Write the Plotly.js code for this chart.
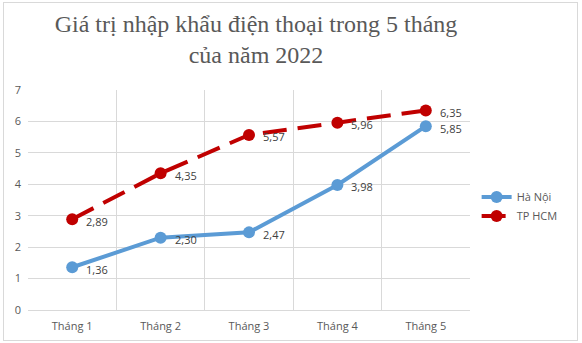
<!DOCTYPE html>
<html><head><meta charset="utf-8">
<script src="https://cdn.plot.ly/plotly-3.0.1.min.js"></script>
<style>body{margin:0;padding:0;background:#fff}#c{width:582px;height:343px;position:absolute;left:0;top:0}#b{position:absolute;left:3px;top:2px;width:573px;height:337px;border:1px solid #d9d9d9;pointer-events:none}</style>
</head><body>
<div id="c"></div><div id="b"></div>
<script>
var categories = ["Tháng 1","Tháng 2","Tháng 3","Tháng 4","Tháng 5"];
var haNoi = [1.36, 2.30, 2.47, 3.98, 5.85];
var tpHCM = [2.89, 4.35, 5.57, 5.96, 6.35];
var seriesNames = ["Hà Nội","TP HCM"];
function lbl(v){return v.toFixed(2).replace('.',',');}
var traces = [
 {x:categories,y:haNoi,name:seriesNames[0],type:'scatter',mode:'lines+markers',
  line:{color:'#5B9BD5',width:4},marker:{color:'#5B9BD5',size:12}},
 {x:categories,y:tpHCM,name:seriesNames[1],type:'scatter',mode:'lines+markers',
  line:{color:'#C00000',width:4,dash:'24px,11px'},marker:{color:'#C00000',size:12}}
];
var annotations = [];
[haNoi,tpHCM].forEach(function(s){
  s.forEach(function(v,i){
    annotations.push({x:categories[i],y:v,xref:'x',yref:'y',text:lbl(v),showarrow:false,
      xanchor:'left',yanchor:'middle',xshift:12,yshift:-2,
      font:{family:'Open Sans, Arial',size:11,color:'#404040'}});
  });
});
var layout = {
 width:582,height:343,margin:{l:28,r:112,t:90,b:33},
 paper_bgcolor:'#fff',plot_bgcolor:'#fff',
 title:{text:'Giá trị nhập khẩu điện thoại trong 5 tháng<br>của năm 2022',font:{family:'Liberation Serif, Times New Roman, serif',size:24,color:'#595959'},x:256/582,xanchor:'center',y:0.906,yanchor:'top'},
 xaxis:{type:'category',range:[-0.5,4.5],tickson:'boundaries',showgrid:true,gridcolor:'#d9d9d9',gridwidth:1,
  showline:true,linecolor:'#d9d9d9',ticks:'',ticklabelstandoff:6,tickfont:{family:'Open Sans, Arial',size:11,color:'#595959'},zeroline:false},
 yaxis:{range:[0,7],dtick:1,showgrid:true,gridcolor:'#d9d9d9',gridwidth:1,zeroline:false,showline:false,
  tickfont:{family:'Open Sans, Arial',size:11,color:'#595959'},ticklabelstandoff:6},
 annotations:annotations,
 showlegend:true,
 legend:{x:1.015,y:0.47,xanchor:'left',yanchor:'middle',font:{family:'Open Sans, Arial',size:11,color:'#595959'},itemwidth:30,tracegroupgap:0,bgcolor:'rgba(0,0,0,0)'}
};
Plotly.newPlot('c',traces,layout,{displayModeBar:false,staticPlot:true});
</script>
</body></html>
